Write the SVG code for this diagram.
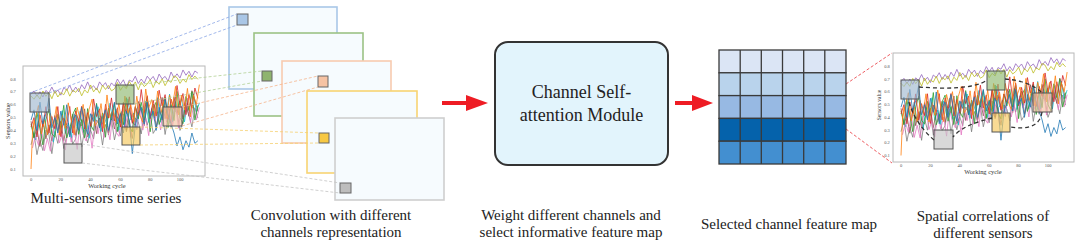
<svg xmlns="http://www.w3.org/2000/svg" xmlns:xlink="http://www.w3.org/1999/xlink" width="1080" height="243" viewBox="0 0 1080 243">
<style>
.cap{font-family:"Liberation Serif","Times New Roman",serif;font-size:15px;fill:#222;text-anchor:middle}
.mod{font-family:"Liberation Serif","Times New Roman",serif;font-size:18px;fill:#222;text-anchor:middle}
.tk{font-family:"Liberation Serif","Times New Roman",serif;font-size:4.5px;fill:#555;text-anchor:middle}
.ax{font-family:"Liberation Serif","Times New Roman",serif;font-size:6.4px;fill:#333;text-anchor:middle}
.frame{fill:#fff;stroke:#b8b8b8;stroke-width:1}
.ser{fill:none;stroke-width:0.8;vector-effect:non-scaling-stroke;stroke-linejoin:round}
.box{stroke:#555;stroke-width:1;fill-opacity:0.65}
.sheet{fill:#f6fbfe;stroke-width:1.6}
.sq{stroke:#666;stroke-width:1}
.dash{fill:none;stroke-width:0.8;stroke-dasharray:3 2}
.red{fill:#ee1c24}
.cell{stroke:#3a3a3a;stroke-width:1.3}
.loop{fill:none;stroke:#333;stroke-width:1.3;stroke-dasharray:4 3}
</style>
<defs>
<polyline id="nA" class="ser" points="0,0 2,-6 4,5 6,-3 8,8 10,-4 12,2 14,-9 16,4 18,-2 20,9 22,-5 24,1 26,-8 28,6 30,-3 32,7 34,-6 36,3 38,-10 40,4 42,-1 44,8 46,-7 48,2 50,-4 52,9 54,-2 56,5 58,-8 60,3 62,-5 64,10 66,-3 68,1 70,-9 72,6 74,-2 76,7 78,-6 80,2 82,-4 84,8 86,-7 88,3 90,-1 92,9 94,-8 96,4 98,-3 100,6 102,-9 104,2 106,-5 108,7 110,-4 112,1"/>
<polyline id="nB" class="ser" points="0,3 2,-4 4,2 6,-8 8,6 10,-1 12,7 14,-5 16,-9 18,3 20,-2 22,8 24,-6 26,4 28,-3 30,9 32,-7 34,1 36,5 38,-4 40,10 42,-6 44,2 46,-8 48,5 50,-1 52,7 54,-9 56,3 58,6 60,-5 62,2 64,-7 66,8 68,-3 70,4 72,-10 74,5 76,-2 78,9 80,-6 82,1 84,-4 86,7 88,-8 90,3 92,-2 94,6 96,-7 98,8 100,-5 102,2 104,-9 106,6 108,-3 110,5 112,-2"/>
<polyline id="nC" class="ser" points="0,-2 2,5 4,-7 6,1 8,9 10,-3 12,-8 14,4 16,6 18,-5 20,2 22,-9 24,7 26,3 28,-4 30,-7 32,6 34,-1 36,8 38,-6 40,2 42,5 44,-8 46,4 48,-3 50,9 52,-5 54,1 56,-7 58,7 60,-2 62,4 64,-9 66,5 68,8 70,-4 72,2 74,-6 76,3 78,-8 80,9 82,-2 84,-5 86,6 88,1 90,-7 92,8 94,-3 96,5 98,-9 100,4 102,7 104,-6 106,1 108,-8 110,6 112,-1"/>
<polyline id="nD" class="ser" points="0,4 2,-3 4,-9 6,6 8,-1 10,7 12,-4 14,3 16,-7 18,8 20,-2 22,5 24,-8 26,1 28,9 30,-5 32,2 34,-6 36,7 38,-3 40,-8 42,6 44,4 46,-5 48,8 50,-9 52,3 54,-1 56,6 58,-4 60,9 62,-7 64,2 66,-2 68,7 70,-6 72,4 74,8 76,-9 78,1 80,-3 82,6 84,-7 86,5 88,-1 90,8 92,-4 94,2 96,-8 98,7 100,-3 102,5 104,-6 106,9 108,-2 110,3 112,-7"/>
<g id="allSeries">
<use xlink:href="#nC" href="#nC" transform="translate(0,70) skewY(-11.1) translate(112,0) scale(-1,-1.2)" stroke="#7f7f7f"/>
<use xlink:href="#nA" href="#nA" transform="translate(0,60) skewY(-10.1) translate(1,0) scale(1,-1.3)" stroke="#17becf"/>
<use xlink:href="#nD" href="#nD" transform="translate(0,62) skewY(-11.1) translate(112,0) scale(-1,1.3)" stroke="#8c564b"/>
<use xlink:href="#nB" href="#nB" transform="translate(0,70) skewY(-12.6) translate(1,0) scale(1,1.3)" stroke="#e377c2"/>
<use xlink:href="#nC" href="#nC" transform="translate(0,58) skewY(-8.1) scale(1,1.6)" stroke="#2ca02c"/>
<use xlink:href="#nA" href="#nA" transform="translate(0,56) skewY(-10.6) translate(112,0) scale(-1,1.4)" stroke="#d62728"/>
<use xlink:href="#nD" href="#nD" transform="translate(0,55) skewY(-10.1) translate(1,0) scale(1,1.5)" stroke="#ff7f0e"/>
<polyline class="ser" stroke="#ff7f0e" points="0,90 1,62 2,52"/>
<polyline class="ser" stroke="#1f77b4" points="0,52 2,44 4,60 6,38 8,55 10,47 12,35 14,58 16,50 18,62 20,45 22,56 24,40 26,65 28,52 30,48 32,60 34,42 36,55 38,63 40,47 42,53 44,40 46,58 48,50 50,44 52,60 54,49 56,38 58,55 60,47 62,62 64,45 66,52 68,78 70,56 72,48 74,42 76,55 78,38 80,50 82,45 84,60 86,42 88,52 90,36 92,48 94,55 96,62 98,72 100,65 102,75 104,68 106,73 108,62 110,70 112,68"/>
<use xlink:href="#nA" href="#nA" transform="translate(0,32) skewY(-8.6) scale(1,0.4)" stroke="#9467bd"/>
<use xlink:href="#nB" href="#nB" transform="translate(0,34) skewY(-7.6) translate(112,0) scale(-1,0.4)" stroke="#bcbd22"/>
</g>
</defs>
<rect width="1080" height="243" fill="#fff"/>

<g id="multi-sensor-chart">
<rect class="frame" x="23" y="66" width="182" height="110"/>
<use xlink:href="#allSeries" href="#allSeries" transform="translate(31,53.28) scale(1.49,1.286)"/>
<rect class="box" x="30" y="93" width="19" height="19" fill="#9fb8d0"/>
<rect class="box" x="116" y="85" width="18" height="19" fill="#8fb870"/>
<rect class="box" x="64" y="144" width="18" height="19" fill="#c5c5c5"/>
<rect class="box" x="122" y="127" width="18" height="18" fill="#f6c75a"/>
<rect class="box" x="163" y="107" width="19" height="19" fill="#f3c3a2"/>
<text class="tk" x="13" y="80.5">0.8</text><text class="tk" x="13" y="93.4">0.7</text><text class="tk" x="13" y="106.2">0.6</text><text class="tk" x="13" y="119.1">0.5</text><text class="tk" x="13" y="131.9">0.4</text><text class="tk" x="13" y="144.8">0.3</text><text class="tk" x="13" y="157.6">0.2</text><text class="tk" x="13" y="170.5">0.1</text>
<text class="tk" x="31" y="180.5">0</text><text class="tk" x="60.8" y="180.5">20</text><text class="tk" x="90.6" y="180.5">40</text><text class="tk" x="120.4" y="180.5">60</text><text class="tk" x="150.2" y="180.5">80</text><text class="tk" x="180" y="180.5">100</text>
<text class="ax" x="107" y="188">Working cycle</text>
<text class="ax" style="font-size:6.5px" transform="translate(10,121) rotate(-90)">Sensors value</text>
<text class="cap" x="106" y="203">Multi-sensors time series</text>
</g>

<g id="conv-channels">
<rect class="sheet" x="229" y="7" width="108" height="82" stroke="#a9c7e8"/>
<rect class="sq" x="237" y="14" width="11" height="11" fill="#a9c6e6"/>
<rect class="sheet" x="254" y="33" width="109" height="83" stroke="#9cc285"/>
<rect class="sq" x="262" y="71" width="10" height="10" fill="#8fb46f"/>
<rect class="sheet" x="282" y="61" width="109" height="82" stroke="#f8cbb0"/>
<rect class="sq" x="318" y="76" width="10" height="11" fill="#f6c3a4"/>
<rect class="sheet" x="307" y="91" width="110" height="82" stroke="#f8d472"/>
<rect class="sq" x="319" y="133" width="10" height="10" fill="#f7c843"/>
<rect class="sheet" x="335" y="118" width="109" height="82" stroke="#cfcfcf"/>
<rect class="sq" x="340" y="183" width="11" height="10" fill="#bdbdbd"/>
<text class="cap" x="331" y="220">Convolution with different</text>
<text class="cap" x="331" y="237">channels representation</text>
</g>

<g id="connectors">
<path class="dash" stroke="#8aa6e6" d="M30,93 L237,14 M49,93 L237,25"/>
<path class="dash" stroke="#b2d096" d="M134,85 L262,71 M134,104 L262,81"/>
<path class="dash" stroke="#f5b48c" d="M182,107 L318,76 M182,126 L318,87"/>
<path class="dash" stroke="#f5cf6e" d="M140,127 L319,133 M140,145 L319,143"/>
<path class="dash" stroke="#c4c4c4" d="M82,144 L340,183 M82,163 L340,193"/>
<rect class="red" x="442" y="101" width="26" height="4"/>
<polygon class="red" points="466,95 488,103 466,111"/>
<rect class="red" x="675" y="101" width="19" height="4"/>
<polygon class="red" points="692,95 713,103 692,111"/>
<path class="dash" stroke="#e8333a" stroke-width="1" d="M846,84 L892,53 M846,129 L892,163"/>
</g>

<g id="attention-module">
<rect x="495" y="42" width="173" height="123" rx="13" fill="#e2f4fc" stroke="#333" stroke-width="2"/>
<text class="mod" x="581.5" y="98">Channel Self-</text>
<text class="mod" x="581.5" y="121">attention Module</text>
<text class="cap" x="571" y="220">Weight different channels and</text>
<text class="cap" x="571" y="237">select informative feature map</text>
</g>

<g id="feature-map">
<rect class="cell" x="719" y="50" width="127" height="22.8" fill="#dbe5f5"/>
<rect class="cell" x="719" y="72.8" width="127" height="22.8" fill="#b9d3ec"/>
<rect class="cell" x="719" y="95.6" width="127" height="22.8" fill="#97b9e3"/>
<rect class="cell" x="719" y="118.4" width="127" height="22.8" fill="#0562ab"/>
<rect class="cell" x="719" y="141.2" width="127" height="22.8" fill="#438fd0"/>
<path class="cell" fill="none" d="M740.2,50V164M761.3,50V164M782.5,50V164M803.7,50V164M824.8,50V164"/>
<text class="cap" x="789" y="229">Selected channel feature map</text>
</g>

<g id="spatial-chart">
<rect class="frame" x="893" y="53" width="181" height="109"/>
<use xlink:href="#allSeries" href="#allSeries" transform="translate(901,41.1) scale(1.47,1.271)"/>
<rect class="box" x="901" y="80" width="18" height="19" fill="#9fb8d0"/>
<rect class="box" x="987" y="71" width="18" height="19" fill="#8fb870"/>
<rect class="box" x="934" y="130" width="19" height="19" fill="#c5c5c5"/>
<rect class="box" x="992" y="113" width="18" height="19" fill="#f6c75a"/>
<rect class="box" x="1033" y="93" width="19" height="19" fill="#f3c3a2"/>
<path class="loop" d="M919,87 C945,89 975,89 987,80 M1005,79 C1020,80 1035,85 1042,93 M1042,112 C1040,125 1030,130 1010,127 M992,118 C975,122 960,128 953,137 M934,140 C922,130 912,115 908,99"/>
<text class="tk" x="887" y="68">0.8</text><text class="tk" x="887" y="80.7">0.7</text><text class="tk" x="887" y="93.4">0.6</text><text class="tk" x="887" y="106.1">0.5</text><text class="tk" x="887" y="118.8">0.4</text><text class="tk" x="887" y="131.5">0.3</text><text class="tk" x="887" y="144.2">0.2</text><text class="tk" x="887" y="156.9">0.1</text>
<text class="tk" x="901" y="167">0</text><text class="tk" x="930.4" y="167">20</text><text class="tk" x="959.8" y="167">40</text><text class="tk" x="989.2" y="167">60</text><text class="tk" x="1018.6" y="167">80</text><text class="tk" x="1048" y="167">100</text>
<text class="ax" x="983" y="174">Working cycle</text>
<text class="ax" style="font-size:5.5px" transform="translate(881,105) rotate(-90)">Sensors value</text>
<text class="cap" x="983" y="221">Spatial correlations of</text>
<text class="cap" x="983" y="238">different sensors</text>
</g>
</svg>
